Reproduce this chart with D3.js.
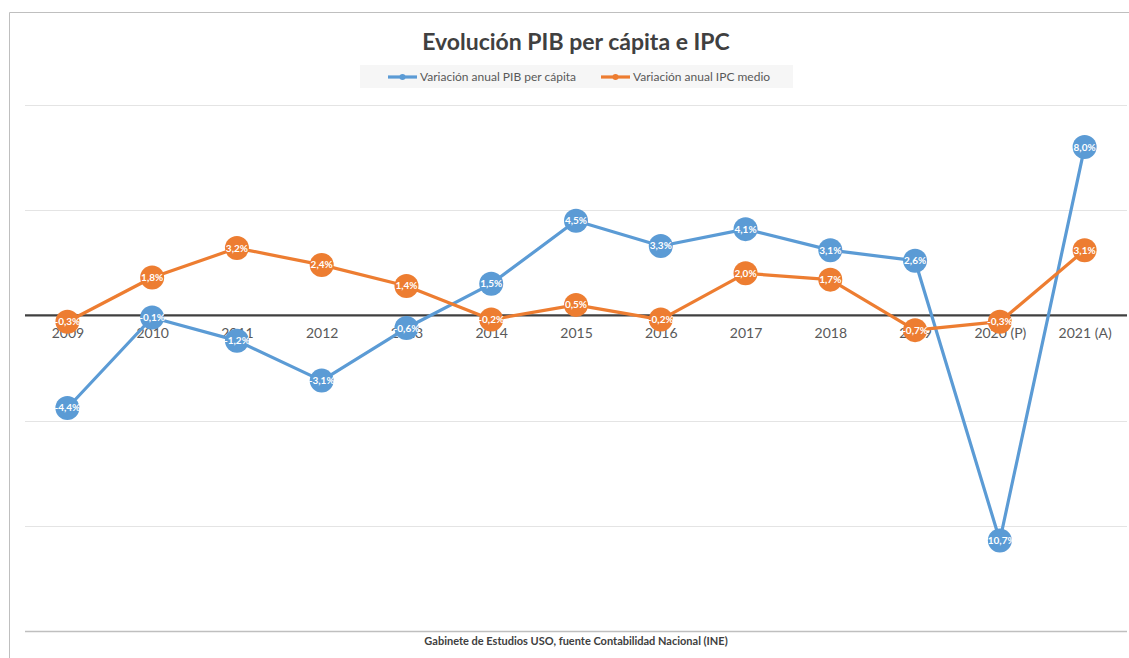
<!DOCTYPE html>
<html>
<head>
<meta charset="utf-8">
<script src="https://cdn.jsdelivr.net/npm/d3@7"></script>
<style>
  body { margin: 0; background: #fff; }
  text { font-family: Lato, "Open Sans", sans-serif; }
</style>
</head>
<body>
<div id="chart"></div>
<script>
const years = ["2009", "2010", "2011", "2012", "2013", "2014", "2015", "2016", "2017", "2018", "2019", "2020 (P)", "2021 (A)"];
const pib = [-4.4, -0.1, -1.2, -3.1, -0.6, 1.5, 4.5, 3.3, 4.1, 3.1, 2.6, -10.7, 8.0];
const ipc = [-0.3, 1.8, 3.2, 2.4, 1.4, -0.2, 0.5, -0.2, 2.0, 1.7, -0.7, -0.3, 3.1];
const gridTicks = [10, 5, 0, -5, -10, -15];
const seriesNames = ["Variación anual PIB per cápita", "Variación anual IPC medio"];
const colors = ["#5b9bd5", "#ed7d31"];

const width = 1129, height = 658;
const margin = { top: 105, right: 2, bottom: 28, left: 25 };

const svg = d3.select("#chart").append("svg")
    .attr("width", width)
    .attr("height", height);

// chart frame
svg.append("path")
    .attr("d", `M9.5,${height} V12.5 H${width}`)
    .attr("fill", "none")
    .attr("stroke", "#bfbfbf")
    .attr("stroke-width", 1);

const xScale = d3.scalePoint()
    .domain(years)
    .range([margin.left, width - margin.right])
    .padding(0.5);

const yScale = d3.scaleLinear()
    .domain([-15, 10])
    .range([height - margin.bottom + 1, margin.top]);

// gridlines
svg.append("g")
    .selectAll("line")
    .data(gridTicks.filter(d => d !== 0))
    .join("line")
    .attr("x1", margin.left)
    .attr("x2", width - margin.right)
    .attr("y1", d => Math.round(yScale(d)) + 0.5)
    .attr("y2", d => Math.round(yScale(d)) + 0.5)
    .attr("stroke", d => d === -15 ? "#bfbfbf" : "#e4e4e4")
    .attr("stroke-width", d => d === -15 ? 1.5 : 1);

// zero axis with category labels
let xAxis = d3.axisBottom(xScale).tickSize(0).tickPadding(13);
let gx = svg.append("g")
    .attr("transform", `translate(0, ${yScale(0)})`)
    .call(xAxis);
gx.select(".domain")
    .attr("d", `M${margin.left},0H${width - margin.right}`)
    .attr("stroke", "#404040")
    .attr("stroke-width", 2.2);
gx.selectAll(".tick text")
    .attr("font-family", "Lato, 'Open Sans', sans-serif")
    .attr("font-size", "14px")
    .attr("fill", "#595959");

const line = d3.line()
    .x((d, i) => xScale(years[i]))
    .y(d => yScale(d));

[pib, ipc].forEach((series, k) => {
    svg.append("path")
        .datum(series)
        .attr("d", line)
        .attr("fill", "none")
        .attr("stroke", colors[k])
        .attr("stroke-width", 3.2)
        .attr("stroke-linejoin", "round");
});

[pib, ipc].forEach((series, k) => {
    let g = svg.append("g");
    g.selectAll("circle")
        .data(series)
        .join("circle")
        .attr("cx", (d, i) => xScale(years[i]))
        .attr("cy", d => yScale(d))
        .attr("r", 12)
        .attr("fill", colors[k]);
    g.selectAll("text")
        .data(series)
        .join("text")
        .attr("x", (d, i) => xScale(years[i]))
        .attr("y", d => yScale(d) + 3.5)
        .attr("text-anchor", "middle")
        .attr("font-size", "10px")
        .attr("font-weight", "bold")
        .attr("fill", "#fff")
        .text(d => d.toFixed(1).replace(".", ",") + "%");
});

// title
svg.append("text")
    .attr("x", 576)
    .attr("y", 50)
    .attr("text-anchor", "middle")
    .attr("font-size", "23px")
    .attr("font-weight", "bold")
    .attr("fill", "#404040")
    .text("Evolución PIB per cápita e IPC");

// legend
const legend = svg.append("g");
legend.append("rect")
    .attr("x", 360).attr("y", 65)
    .attr("width", 433).attr("height", 23)
    .attr("fill", "#f6f6f6");
const legendX = [388, 601];
seriesNames.forEach((name, k) => {
    let lg = legend.append("g").attr("transform", `translate(${legendX[k]}, 77)`);
    lg.append("line")
        .attr("x1", 0).attr("x2", 29)
        .attr("stroke", colors[k])
        .attr("stroke-width", 3.2);
    lg.append("circle")
        .attr("cx", 14.5).attr("r", 3)
        .attr("fill", colors[k]);
    lg.append("text")
        .attr("x", 32).attr("y", 4)
        .attr("font-size", "12px")
        .attr("fill", "#595959")
        .text(name);
});

// source footer
svg.append("text")
    .attr("x", 576)
    .attr("y", 645)
    .attr("text-anchor", "middle")
    .attr("font-size", "11px")
    .attr("font-weight", "bold")
    .attr("fill", "#404040")
    .text("Gabinete de Estudios USO, fuente Contabilidad Nacional (INE)");
</script>
</body>
</html>
